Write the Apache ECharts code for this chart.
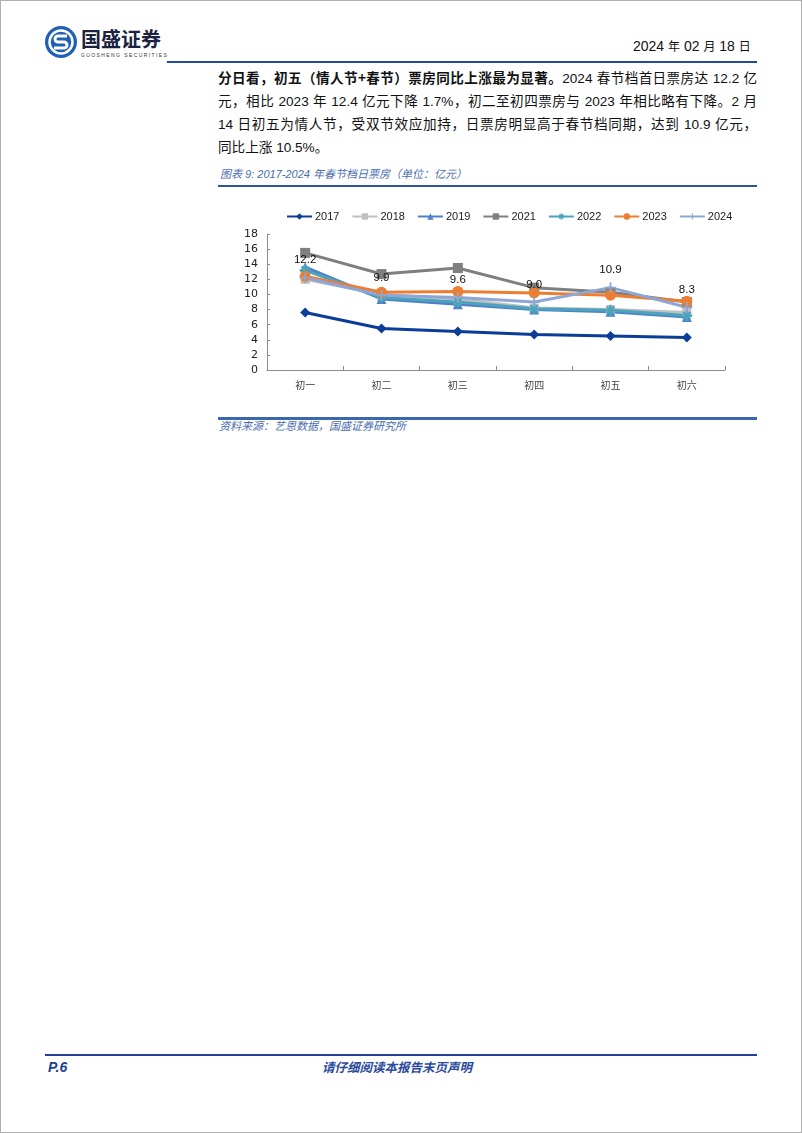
<!DOCTYPE html>
<html>
<head>
<meta charset="utf-8">
<script src="https://cdn.jsdelivr.net/npm/echarts@6/dist/echarts.min.js"></script>
<style>
  html, body { margin: 0; padding: 0; background: #fff; }
  body { width: 802px; height: 1133px; position: relative; overflow: hidden; font-family: "Liberation Sans", "Noto Sans CJK SC", sans-serif; }
  .frame { position: absolute; left: 0; top: 0; width: 800px; height: 1131px; border: 1px solid #b0b0b0; }
  .abs { position: absolute; }
  .para { position: absolute; left: 218px; width: 539px; font-size: 13.6px; color: #111; white-space: nowrap; line-height: 23px; }
  .para .j { text-align: justify; text-align-last: justify; }
  .cap { color: #4A6DB0; font-style: italic; font-size: 11px; font-family: "Liberation Sans", "Noto Sans CJK SC", sans-serif; }
</style>
</head>
<body>
<div class="frame"></div>
<!-- header -->
<svg class="abs" style="left:44px;top:25px" width="34" height="34" viewBox="0 0 34 34">
  <circle cx="17" cy="17" r="16" fill="#1F5FB5"/>
  <circle cx="17" cy="17" r="11.5" fill="none" stroke="#fff" stroke-width="2.5"/>
  <path d="M23 11 H14 a3 3 0 0 0 0 6 h6 a3 3 0 0 1 0 6 H10" fill="none" stroke="#fff" stroke-width="3"/>
</svg>
<div class="abs" style="left:81px;top:27px;font-size:20px;font-weight:bold;color:#1b2340;font-family:'Noto Sans CJK SC';letter-spacing:0px;line-height:24px">国盛证券</div>
<div class="abs" style="left:81px;top:52px;font-size:5px;color:#333;letter-spacing:1.4px;line-height:6px">GUOSHENG SECURITIES</div>
<div class="abs" style="left:633px;top:37px;font-size:14px;color:#111;line-height:18px;font-family:'Liberation Sans','Noto Sans CJK SC'">2024 <span style="font-size:12px">年</span> 02 <span style="font-size:12px">月</span> 18 <span style="font-size:12px">日</span></div>
<div class="abs" style="left:167px;top:61px;width:590px;height:2px;background:#24489A"></div>

<!-- paragraph -->
<div class="para" style="top:66px">
  <div class="j"><b style="font-family:'Noto Sans CJK SC'">分日看，初五（情人节+春节）票房同比上涨最为显著。</b>2024 春节档首日票房达 12.2 亿</div>
  <div class="j">元，相比 2023 年 12.4 亿元下降 1.7%，初二至初四票房与 2023 年相比略有下降。2 月</div>
  <div class="j">14 日初五为情人节，受双节效应加持，日票房明显高于春节档同期，达到 10.9 亿元，</div>
  <div>同比上涨 10.5%。</div>
</div>

<div class="abs cap" style="left:220px;top:166px;line-height:16px">图表 9: 2017-2024 年春节档日票房（单位：亿元）</div>
<div class="abs" style="left:218px;top:185px;width:539px;height:2px;background:#2E5597"></div>

<div id="chart" class="abs" style="left:218px;top:195px;width:540px;height:210px"></div>

<div class="abs" style="left:218px;top:417px;width:539px;height:3px;background:#3B67AE"></div>
<div class="abs cap" style="left:219px;top:418px;line-height:16px">资料来源：艺恩数据，国盛证券研究所</div>

<!-- footer -->
<div class="abs" style="left:45px;top:1054px;width:712px;height:2px;background:#22409A"></div>
<div class="abs" style="left:48px;top:1058px;font-size:14px;font-weight:bold;font-style:italic;color:#1F3E8F;line-height:18px">P.6</div>
<div class="abs" style="left:0;width:794px;top:1058px;text-align:center;font-size:12.5px;font-weight:bold;font-style:italic;color:#2B4A9B;line-height:18px;font-family:'Noto Sans CJK SC'">请仔细阅读本报告末页声明</div>

<script>
const categories = ['初一', '初二', '初三', '初四', '初五', '初六'];
const years = ['2017', '2018', '2019', '2021', '2022', '2023', '2024'];
const v2017 = [7.6, 5.5, 5.1, 4.7, 4.5, 4.3];
const v2018 = [12.0, 10.0, 9.4, 8.2, 8.0, 7.6];
const v2019 = [13.6, 9.4, 8.7, 8.0, 7.7, 7.0];
const v2021 = [15.5, 12.7, 13.5, 10.9, 10.3, 9.0];
const v2022 = [13.2, 9.6, 9.0, 8.1, 7.9, 7.2];
const v2023 = [12.4, 10.3, 10.4, 10.2, 9.9, 9.1];
const v2024 = [12.2, 9.9, 9.6, 9.0, 10.9, 8.3];
const yTicks = { min: 0, max: 18, interval: 2 };

const valuesByYear = [v2017, v2018, v2019, v2021, v2022, v2023, v2024];
const colors = ['#0B3C98', '#BFBFBF', '#4F81C8', '#7F7F7F', '#4BA3BE', '#ED7D31', '#8EA6D6'];
const symbols = [
  'diamond', 'rect', 'triangle', 'rect',
  'path://M4,0h2v10h-2z M0,4h10v2h-10z M1,2.4L2.4,1L9,7.6L7.6,9z M7.6,1L9,2.4L2.4,9L1,7.6z',
  'circle',
  'path://M4.2,0h1.6v10h-1.6z M0,4.2h10v1.6h-10z'
];
const sizes = [10, 9, 10, 10, 11, 11, 11];

const series = years.map((y, i) => ({
  name: y,
  type: 'line',
  data: valuesByYear[i],
  symbol: symbols[i],
  symbolSize: sizes[i],
  showAllSymbol: true,
  lineStyle: { width: 3, color: colors[i] },
  itemStyle: { color: colors[i] },
  label: i === 6 ? {
    show: true, position: 'top', distance: 6,
    formatter: p => p.value.toFixed(1),
    color: '#111', fontSize: 11.5, fontFamily: 'Liberation Sans'
  } : { show: false },
  emphasis: { disabled: true },
  animation: false
}));

const chart = echarts.init(document.getElementById('chart'), null, { renderer: 'canvas' });
chart.setOption({
  animation: false,
  legend: {
    top: 11, left: 63,
    itemWidth: 25, itemHeight: 8, itemGap: 12,
    textStyle: { fontSize: 11, color: '#222', fontFamily: 'Liberation Sans', padding: [0, 0, 0, -2] },
    data: years
  },
  grid: { left: 49, top: 39, width: 458, height: 136, containLabel: false },
  xAxis: {
    type: 'category', data: categories, boundaryGap: true,
    axisLine: { lineStyle: { color: '#8C8C8C', width: 1 } },
    axisTick: { show: true, inside: true, length: 4, lineStyle: { color: '#8C8C8C' } },
    axisLabel: { fontSize: 10, color: '#444', margin: 10, fontFamily: 'Noto Sans CJK SC' }
  },
  yAxis: {
    type: 'value', min: yTicks.min, max: yTicks.max, interval: yTicks.interval,
    axisLine: { show: true, lineStyle: { color: '#8C8C8C', width: 1 } },
    axisTick: { show: true, inside: true, length: 3, lineStyle: { color: '#8C8C8C' } },
    splitLine: { show: false },
    axisLabel: { fontSize: 11, color: '#222', margin: 9, fontFamily: 'DejaVu Sans' }
  },
  series: series
});
</script>
</body>
</html>
